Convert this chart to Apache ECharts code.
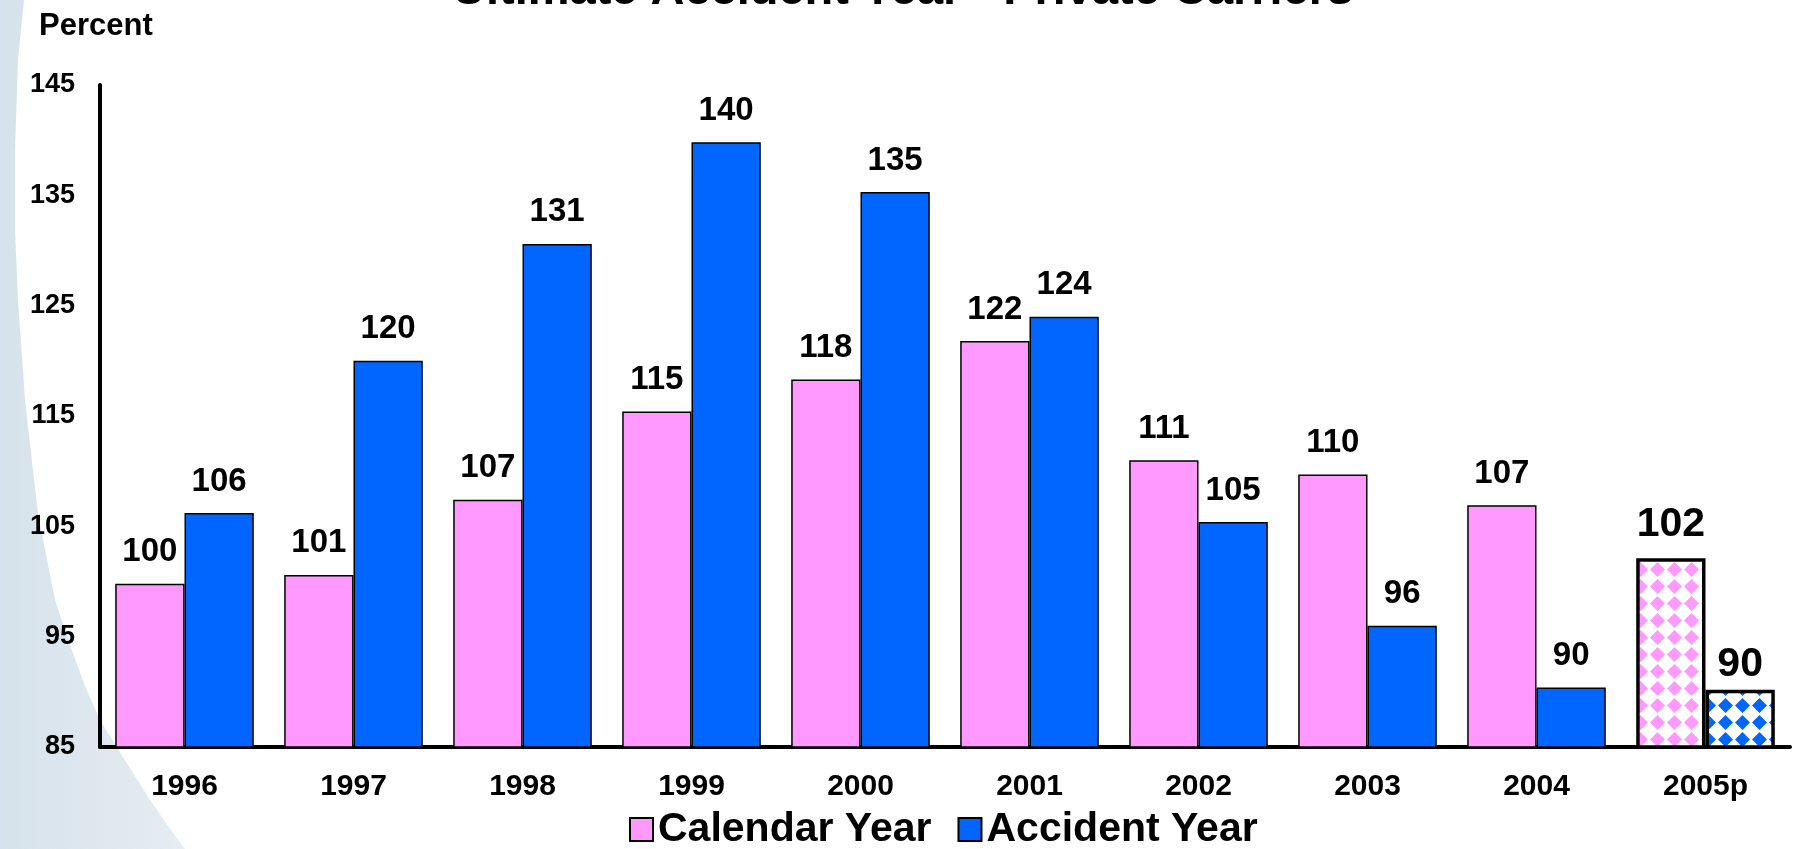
<!DOCTYPE html>
<html>
<head>
<meta charset="utf-8">
<script src="https://cdn.jsdelivr.net/npm/echarts@6.0.0/dist/echarts.min.js"></script>
<style>
  html, body { margin: 0; padding: 0; background: #fff; }
  #c { width: 1793px; height: 849px; }
</style>
</head>
<body>
<div id="c"></div>
<script>
// ---------- data ----------
const years = ["1996", "1997", "1998", "1999", "2000", "2001", "2002", "2003", "2004", "2005p"];
const calendarYear = [99.8, 100.6, 107.4, 115.4, 118.3, 121.8, 111.0, 109.7, 106.9, 102.1];
const accidentYear = [106.2, 120.0, 130.6, 139.8, 135.3, 124.0, 105.4, 96.0, 90.4, 90.2];
const yTicks = [85, 95, 105, 115, 125, 135, 145];
const projectedIndex = 9; // 2005p is drawn hatched

const FONT = "'Liberation Sans', Arial, sans-serif";
const PINK = "#ff99ff";
const BLUE = "#0066ff";

// diamond-checker fill for the projected year
function makePattern(color) {
  const w = 17, h = 17;
  const c = document.createElement("canvas");
  c.width = w; c.height = h;
  const g = c.getContext("2d");
  g.fillStyle = "#fff";
  g.fillRect(0, 0, w, h);
  g.fillStyle = color;
  g.beginPath();
  g.moveTo(w / 2, 1);
  g.lineTo(w - 1, h / 2);
  g.lineTo(w / 2, h - 1);
  g.lineTo(1, h / 2);
  g.closePath();
  g.fill();
  return c;
}

// projected bars: hatched, heavy outline, bigger labels
const projectedLabelDistance = [13, 4];

function buildData(values, color, s) {
  return values.map((v, i) => {
    if (i !== projectedIndex) return v;
    return {
      value: v,
      itemStyle: { color: { image: makePattern(color), repeat: "repeat" }, borderColor: "#000", borderWidth: 3.5 },
      label: { fontSize: 41, distance: projectedLabelDistance[s] }
    };
  });
}

const barLabel = {
  show: true,
  position: "top",
  distance: 15,
  color: "#000",
  fontFamily: FONT,
  fontWeight: "bold",
  fontSize: 33,
  formatter: (p) => Math.round(p.value)
};

// pale swoosh on the left edge (slide background)
const swoosh = [[0, 0], [24, 0], [18, 60], [15, 150], [15, 230], [18, 300], [25, 400], [38, 514],
  [55, 600], [70, 645], [85, 686], [100, 720], [118, 749], [135, 776], [150, 800], [168, 826], [185, 849], [0, 849]];

const chart = echarts.init(document.getElementById("c"), null, { renderer: "canvas", width: 1793, height: 849 });

chart.setOption({
  animation: false,
  backgroundColor: "#fff",
  graphic: [{
    type: "polygon",
    z: -10,
    silent: true,
    shape: { points: swoosh },
    style: {
      fill: {
        type: "linear", x: 0, y: 0, x2: 1, y2: 0,
        colorStops: [{ offset: 0, color: "#d6e2eb" }, { offset: 1, color: "#e6edf3" }]
      }
    }
  }],
  title: [
    {
      text: "Ultimate Accident Year - Private Carriers",
      left: 452,
      top: -32,
      padding: 0,
      textStyle: { fontFamily: FONT, fontWeight: "bold", fontSize: 47, color: "#000" }
    },
    {
      text: "Percent",
      left: 39,
      top: 11,
      padding: 0,
      textStyle: { fontFamily: FONT, fontWeight: "bold", fontSize: 31, color: "#000" }
    }
  ],
  legend: {
    left: 624,
    top: 804,
    itemWidth: 23,
    itemHeight: 23,
    itemGap: 26,
    icon: "rect",
    itemStyle: { borderColor: "#000", borderWidth: 2 },
    textStyle: { fontFamily: FONT, fontWeight: "bold", fontSize: 41, color: "#000" },
    data: ["Calendar Year", "Accident Year"]
  },
  grid: { left: 100, right: 3, top: 85, bottom: 102, containLabel: false },
  xAxis: {
    type: "category",
    data: years,
    axisLine: { lineStyle: { color: "#000", width: 4, cap: "round" } },
    axisTick: { show: false },
    axisLabel: { margin: 25, color: "#000", fontFamily: FONT, fontWeight: "bold", fontSize: 30 }
  },
  yAxis: {
    type: "value",
    min: 85,
    max: 145,
    axisLine: { show: true, lineStyle: { color: "#000", width: 4, cap: "round" } },
    axisTick: { show: false },
    splitLine: { show: false },
    axisLabel: {
      margin: 25,
      color: "#000",
      fontFamily: FONT,
      fontWeight: "bold",
      fontSize: 27,
      customValues: yTicks
    }
  },
  series: [
    {
      name: "Calendar Year",
      type: "bar",
      barGap: "0%",
      barCategoryGap: "18%",
      itemStyle: { color: PINK, borderColor: "#000", borderWidth: 1.5 },
      label: barLabel,
      data: buildData(calendarYear, PINK, 0)
    },
    {
      name: "Accident Year",
      type: "bar",
      barGap: "0%",
      barCategoryGap: "18%",
      itemStyle: { color: BLUE, borderColor: "#000", borderWidth: 1.5 },
      label: barLabel,
      data: buildData(accidentYear, BLUE, 1)
    }
  ]
});
</script>
</body>
</html>
